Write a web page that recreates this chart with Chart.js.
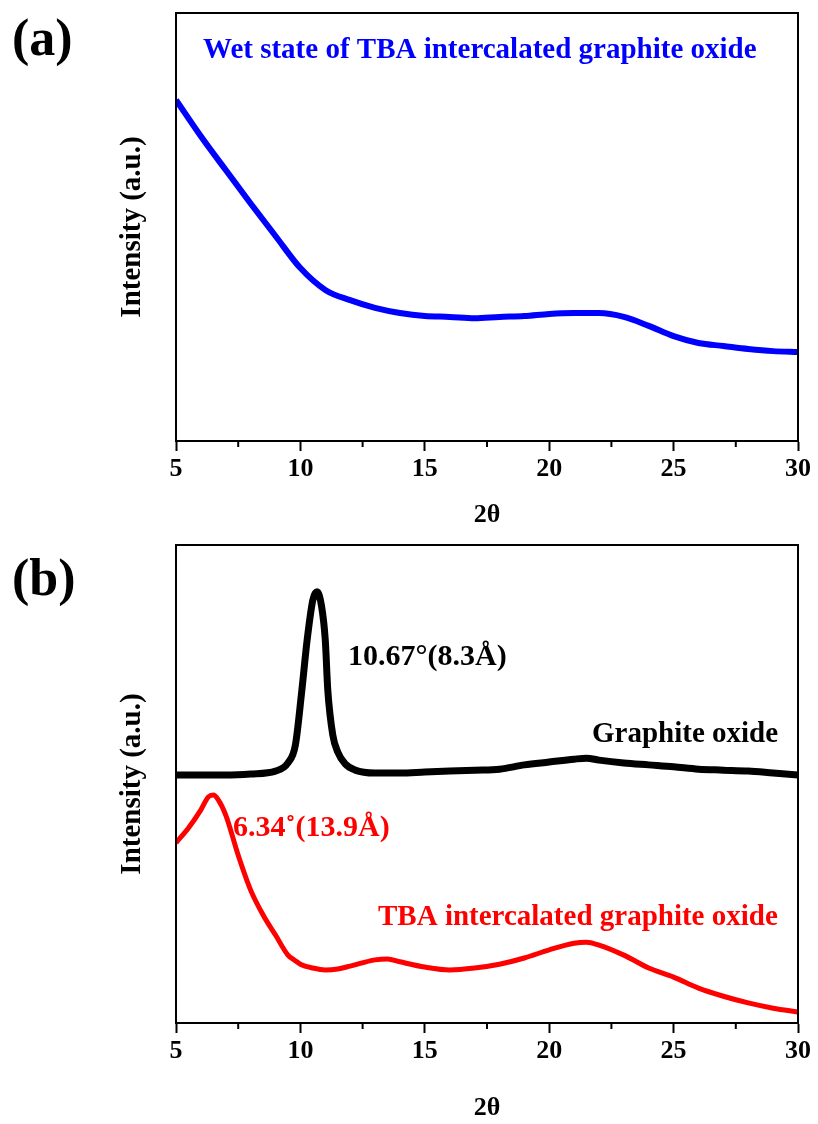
<!DOCTYPE html>
<html>
<head>
<meta charset="utf-8">
<script src="https://cdn.jsdelivr.net/npm/chart.js@4/dist/chart.umd.min.js"></script>
<style>
html,body{margin:0;padding:0;background:#fff;}
#wrap{position:relative;width:818px;height:1124px;}
#c1{position:absolute;left:0;top:0;}
#c2{position:absolute;left:0;top:540px;}
</style>
</head>
<body>
<div id="wrap">
<canvas id="c1" width="818" height="540"></canvas>
<canvas id="c2" width="818" height="584"></canvas>
</div>
<script>
// ---- data ----
const xTicks = [5, 10, 15, 20, 25, 30];
const thetaA = [5,6,7,8,9,10,11,12,13,14,15,16,17,18,19,20,21,22,23,24,25,26,27,28,29,30];
const wetTBA = [79.7,71.2,63.3,55.5,47.9,40.4,35.3,32.9,31.1,29.9,29.2,29.0,28.7,29.0,29.2,29.7,29.9,29.9,29.0,26.9,24.5,22.9,22.2,21.5,21.0,20.8];

const thetaGO = [5,6,7,8,9,9.5,9.8,10.06,10.27,10.5,10.67,10.85,11.0,11.1,11.3,11.5,11.8,12.2,13,14,15,16,17,18,19,20,21,21.5,22,23,24,25,26,27,28,29,30];
const graphiteOxide = [51.9,51.9,51.9,52.1,52.7,54.4,58.2,69.7,80.1,88.5,90.2,87.2,80.1,69.7,60.3,56.7,54.2,52.9,52.3,52.3,52.5,52.7,52.9,53.1,54.0,54.6,55.2,55.4,55.0,54.4,54.0,53.6,53.1,52.9,52.7,52.3,51.9];

const thetaTBA = [5,5.5,6.0,6.3,6.5,6.7,7,7.5,8,8.5,9,9.5,9.75,10,10.5,11,11.5,12,13,13.5,14,15,16,17,18,19,20,21,21.5,22,23,24,25,26,27,28,29,30];
const tbaGO = [37.7,40.8,44.6,47.3,47.7,46.7,43.5,35.1,27.8,22.6,18.4,14.2,13.2,12.3,11.5,11.1,11.3,11.9,13.2,13.4,12.8,11.7,11.1,11.5,12.3,13.6,15.3,16.7,16.9,16.3,14.2,11.5,9.6,7.3,5.6,4.2,3.1,2.3];

const FONT = "'Liberation Serif', 'Times New Roman', serif";

function pts(xs, ys){ return xs.map((x,i)=>({x:x, y:ys[i]})); }

const framePlugin = {
  id:'frame',
  afterDraw(chart, args, opts){
    const {ctx, chartArea:a} = chart;
    const xs = chart.scales.x;
    ctx.save();
    ctx.strokeStyle = '#000';
    ctx.lineWidth = 2;
    ctx.strokeRect(a.left, a.top, a.right - a.left, a.bottom - a.top);
    // minor ticks
    for (let v = 7.5; v < 30; v += 5) {
      const px = xs.getPixelForValue(v);
      ctx.beginPath();
      ctx.moveTo(px, a.bottom);
      ctx.lineTo(px, a.bottom + 6);
      ctx.stroke();
    }
    // panel label
    ctx.fillStyle = '#000';
    ctx.font = "bold 52px " + FONT;
    ctx.textBaseline = 'alphabetic';
    ctx.textAlign = 'left';
    ctx.fillText(opts.panel, opts.panelX, opts.panelY);
    // annotations
    (opts.notes || []).forEach(n => {
      ctx.fillStyle = n.color;
      ctx.font = "bold " + n.size + "px " + FONT;
      ctx.textBaseline = 'middle';
      ctx.textAlign = 'left';
      ctx.fillText(n.text, n.x, n.y);
    });
    ctx.restore();
  }
};

function makeOptions(cfg){
  return {
    responsive:false,
    animation:false,
    layout:{padding:{top:cfg.padTop, right:20, left:0, bottom:0}},
    plugins:{legend:{display:false}, tooltip:{enabled:false}, frame:cfg.frame},
    elements:{point:{radius:0}},
    scales:{
      x:{
        type:'linear', min:5, max:30,
        afterBuildTicks(s){ s.ticks = xTicks.map(v=>({value:v})); },
        afterFit(s){ s.height = cfg.xHeight; },
        grid:{display:true, drawOnChartArea:false, drawTicks:true, tickLength:10, tickWidth:2, tickColor:'#000'},
        border:{display:true, color:'#000', width:2},
        ticks:{color:'#000', font:{family:FONT, size:26, weight:'bold'}, padding:3, maxRotation:0},
        title:{display:true, text:'2θ', color:'#000', font:{family:FONT, size:26, weight:'bold'}, padding:{top:0, bottom:cfg.titleBottom}}
      },
      y:{
        type:'linear', min:0, max:100,
        afterFit(s){ s.width = 176; },
        grid:{display:false},
        border:{display:true, color:'#000', width:2},
        ticks:{display:false},
        title:{display:true, text:'Intensity (a.u.)', color:'#000', font:{family:FONT, size:29, weight:'bold'}, padding:{top:115, bottom:0}}
      }
    }
  };
}

new Chart(document.getElementById('c1'), {
  type:'line',
  data:{datasets:[{data:pts(thetaA, wetTBA), borderColor:'#0000ff', borderWidth:6, cubicInterpolationMode:'monotone', fill:false}]},
  options:makeOptions({padTop:13, xHeight:99, titleBottom:9,
    frame:{panel:'(a)', panelX:12, panelY:55, notes:[
      {text:'Wet state of TBA intercalated graphite oxide', color:'#0000ff', size:29, x:203, y:51}
    ]}}),
  plugins:[framePlugin]
});

new Chart(document.getElementById('c2'), {
  type:'line',
  data:{datasets:[
    {data:pts(thetaGO, graphiteOxide), borderColor:'#000000', borderWidth:7, cubicInterpolationMode:'monotone', fill:false},
    {data:pts(thetaTBA, tbaGO), borderColor:'#ff0000', borderWidth:5, cubicInterpolationMode:'monotone', fill:false}
  ]},
  options:makeOptions({padTop:5, xHeight:101, titleBottom:0,
    frame:{panel:'(b)', panelX:12, panelY:55, notes:[
      {text:'10.67°(8.3Å)', color:'#000', size:30, x:348, y:117},
      {text:'Graphite oxide', color:'#000', size:29, x:592, y:195},
      {text:'6.34˚(13.9Å)', color:'#ff0000', size:30, x:233, y:288},
      {text:'TBA intercalated graphite oxide', color:'#ff0000', size:29, x:378, y:378}
    ]}}),
  plugins:[framePlugin]
});
</script>
</body>
</html>
